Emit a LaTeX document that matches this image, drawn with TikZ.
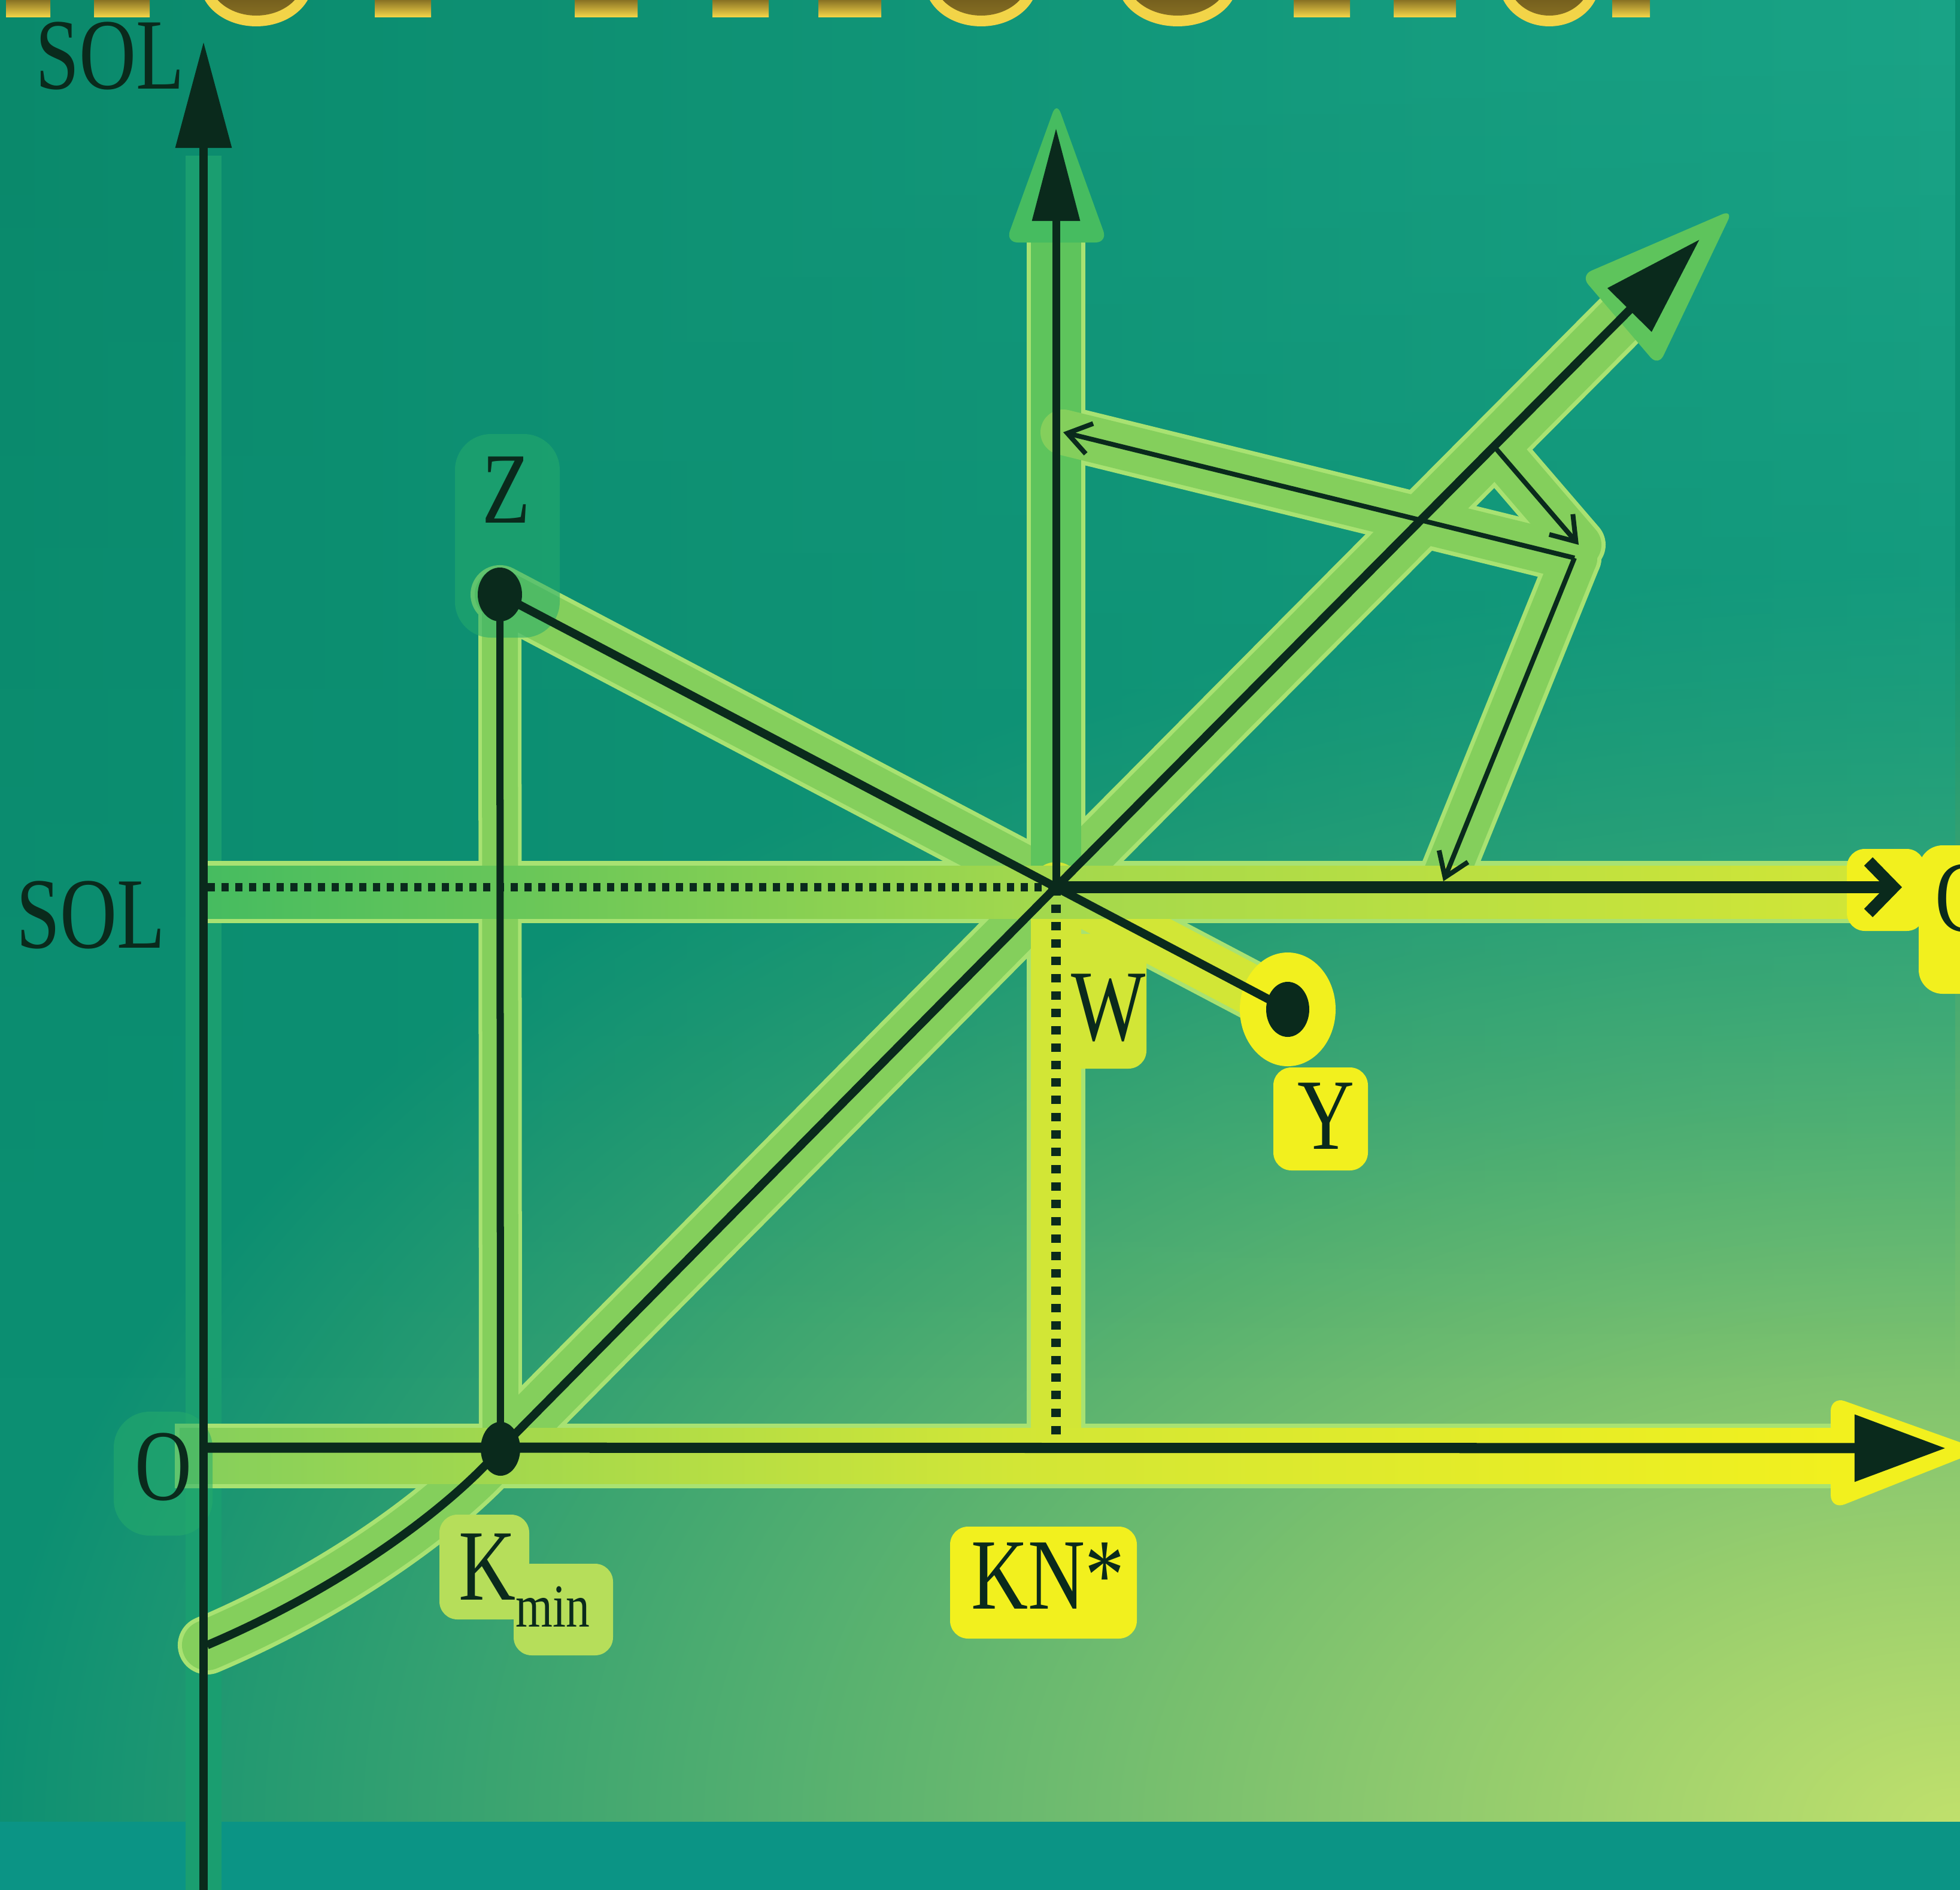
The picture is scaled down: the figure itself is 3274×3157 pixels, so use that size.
\documentclass[tikz,border=0pt]{standalone}
\usepackage{fontspec}
\setmainfont{Liberation Serif}
\usetikzlibrary{arrows.meta,fadings}
\definecolor{bgteal}{HTML}{0C8F72}
\definecolor{bgleft}{HTML}{0A896B}
\definecolor{bgright}{HTML}{1AA487}
\definecolor{bglight}{HTML}{C0E06C}
\definecolor{bandteal}{HTML}{0B9485}
\definecolor{ink}{HTML}{0A2A1C}
\definecolor{rimG}{HTML}{A8E272}
\definecolor{coreG}{HTML}{84CF5C}
\definecolor{deepG}{HTML}{46BC60}
\definecolor{midG}{HTML}{5EC45C}
\definecolor{yel}{HTML}{F2F01E}
\definecolor{yelG}{HTML}{D2E636}
\definecolor{kminG}{HTML}{B6DE5A}
\definecolor{goldD}{HTML}{3C2A0A}
\definecolor{goldL}{HTML}{F2D448}
\definecolor{faintG}{HTML}{26AC6C}
\definecolor{axisglow}{HTML}{1A9E70}
\tikzfading[name=fadedown, top color=transparent!0, bottom color=transparent!100]
\tikzset{
  lbl/.style={font=\fontsize{48}{50}\selectfont, text=ink, inner sep=0pt, xscale=0.78},
  rimstroke/.style={draw=rimG, line width=#1, line cap=round, line join=round},
  corestroke/.style={draw=#1, line width=0.84cm, line cap=round, line join=round},
  axisline/.style={draw=ink, line width=0.13cm},
  thinarrow/.style={draw=ink, line width=0.08cm, -{Straight Barb[length=0.38cm,width=0.52cm]}},
  dotline/.style={draw=ink, line width=0.14cm, dash pattern=on 0.12cm off 0.11cm},
  halo/.style={fill=#1, rounded corners=0.3cm},
  softhalo/.style={fill=#1, rounded corners=0.6cm, opacity=0.55},
}
\begin{document}
\begin{tikzpicture}[x=0.01cm,y=-0.01cm]
\useasboundingbox (0,0) rectangle (3274,3157);
\clip (0,0) rectangle (3274,3157);
% background
\fill[bgteal] (0,0) rectangle (3274,3157);
\shade[inner color=bglight, outer color=bgteal] (3274,3050) ellipse (3300 and 2100);
\shade[left color=bgleft, right color=bgright, path fading=fadedown] (0,0) rectangle (3274,2300);
\fill[bandteal] (0,3043) rectangle (3274,3157);
% cut-off title fragments
\foreach \ax/\bx in {10/84,157/250,626/720,960/1065,1190/1284,1367/1472,2161/2255,2328/2432,2693/2756}
  \shade[top color=goldD, bottom color=goldL] (\ax,-20) rectangle (\bx,28);
\foreach \cx/\rx in {428/94,1639/94,1967/100,2588/84}{
  \fill[goldL] (\cx,-30) ellipse ({\rx} and 74);
  \shade[top color=goldD, bottom color=goldD!60!goldL] (\cx,-38) ellipse ({\rx-14} and 64);
}
% coordinates
\coordinate (O) at (340,2418);
\coordinate (Kmin) at (836,2420);
\coordinate (W) at (1764,1482);
\coordinate (Z) at (835,993);
\coordinate (Y) at (2151,1686);
\coordinate (ytop) at (340,70);
\coordinate (ybot) at (340,3157);
\coordinate (xtip) at (3250,2419);
\coordinate (vtip) at (1764,214);
\coordinate (vglow) at (1764,330);
\coordinate (dtip) at (2839,400);
\coordinate (dglow) at (2760,480);
\coordinate (cstart) at (346,2748);
\coordinate (solstart) at (347,1482);
\coordinate (ctip) at (3177,1482);
\coordinate (KN) at (1764,2418);
\coordinate (A) at (2496,746);
\coordinate (B) at (2637,910);
\coordinate (Cc) at (2630,932);
\coordinate (axT) at (1776,722);
\coordinate (solT) at (2411,1472);
% left axis glow
\draw[axisglow, line width=0.6cm] (340,260) -- (ybot);
% glow rims
\draw[rimstroke=0.98cm] (cstart) .. controls (565,2655) and (748,2522) .. (Kmin) -- (W) -- (dglow);
\draw[rimstroke=0.98cm] (Z) -- (Y);
\draw[rimstroke=0.98cm] (W) -- (vglow);
\draw[rimstroke=0.98cm] (W) -- (KN);
\draw[rimstroke=0.9cm] (A) -- (B);
\draw[rimstroke=0.9cm] (Cc) -- (axT);
\draw[rimstroke=0.9cm] (Cc) -- (solT);
\draw[rimstroke=0.72cm] (Z) -- (Kmin);
\fill[rimG] (292,2378) rectangle (3100,2486);
\fill[rimG] (338,1438) rectangle (3150,1542);
% glow cores
\draw[corestroke=coreG] (cstart) .. controls (565,2655) and (748,2522) .. (Kmin) -- (W) -- (dglow);
\draw[corestroke=coreG] (Z) -- (W);
\draw[corestroke=yelG] (W) -- (Y);
\draw[corestroke=midG] (W) -- (vglow);
\draw[corestroke=yelG] (W) -- (KN);
\draw[corestroke=coreG, line width=0.76cm] (A) -- (B);
\draw[corestroke=coreG, line width=0.76cm] (Cc) -- (axT);
\draw[corestroke=coreG, line width=0.76cm] (Cc) -- (solT);
\draw[corestroke=coreG, line width=0.6cm] (Z) -- (Kmin);
\shade[left color=coreG, right color=yel, middle color=yelG] (300,2385) rectangle (3100,2478);
\shade[left color=deepG, right color=yelG, middle color=coreG!60!yelG] (346,1446) rectangle (3144,1534);
% arrowhead halos
\fill[deepG, rounded corners=0.2cm] (1680,405) -- (1765,170) -- (1850,405) -- cycle;
\fill[midG, rounded corners=0.2cm] (2640,460) -- (2895,350) -- (2770,612) -- cycle;
\fill[yel, rounded corners=0.25cm] (3058,2332) -- (3310,2422) -- (3058,2522) -- cycle;
\fill[yel, rounded corners=0.3cm] (3085,1418) rectangle (3215,1555);
\fill[yel, rounded corners=0.4cm] (3205,1412) rectangle (3320,1660);
% label halos
\fill[halo=yel] (1587,2550) rectangle (1899,2737);
\fill[halo=kminG] (734,2530) rectangle (884,2705);
\fill[halo=kminG] (858,2612) rectangle (1024,2765);
\fill[halo=yelG] (1740,1560) rectangle (1915,1785);
\fill[yel] (Y) ellipse (80 and 95);
\fill[halo=yel] (2127,1783) rectangle (2285,1955);
\fill[softhalo=faintG] (760,725) rectangle (935,1065);
\fill[softhalo=faintG] (190,2358) rectangle (355,2565);
% black lines
\draw[axisline, -{Triangle[length=1.77cm,width=0.91cm]}] (ybot) -- (ytop);
\draw[draw=ink, line width=0.17cm, -{Triangle[length=1.52cm,width=1.08cm]}] (O) -- (xtip);
\draw[axisline, -{Triangle[length=1.55cm,width=0.77cm]}] (W) -- (vtip);
\draw[draw=ink, line width=0.14cm, -{Triangle[length=1.66cm,width=1.0cm]}] (cstart) .. controls (565,2655) and (748,2522) .. (Kmin) -- (W) -- (dtip);
\draw[draw=ink, line width=0.12cm] (Z) -- (Kmin);
\draw[draw=ink, line width=0.14cm] (Z) -- (Y);
\draw[dotline] (solstart) -- (W);
\draw[dotline, line width=0.16cm, dash pattern=on 0.14cm off 0.15cm] (W) -- (KN);
\draw[draw=ink, line width=0.2cm, -{Straight Barb[length=0.42cm,width=0.86cm]}] (W) -- (ctip);
\draw[thinarrow] (A) -- (B);
\draw[thinarrow] (Cc) -- (axT);
\draw[thinarrow] (Cc) -- (solT);
\fill[ink] (Z) ellipse (37 and 45);
\fill[ink] (Y) ellipse (36 and 46);
\fill[ink] (Kmin) ellipse (33 and 45);
% labels
\node[lbl, anchor=base] (lSOLtop) at (184,148) {SOL};
\node[lbl, anchor=base] (lSOL) at (152,1583) {SOL};
\node[lbl, anchor=base] (lZ) at (846,873) {Z};
\node[lbl, anchor=base] (lO) at (273,2505) {O};
\node[lbl, anchor=base] (lW) at (1852,1737) {W};
\node[lbl, anchor=base] (lY) at (2215,1919) {Y};
\node[lbl, anchor=base west] (lK) at (766,2672) {K\raisebox{-13pt}{\fontsize{29}{30}\selectfont min}};
\node[lbl, anchor=base] (lKN) at (1750,2687) {KN*};
\node[lbl, anchor=base west] (lC) at (3232,1555) {C};
\end{tikzpicture}
\end{document}
